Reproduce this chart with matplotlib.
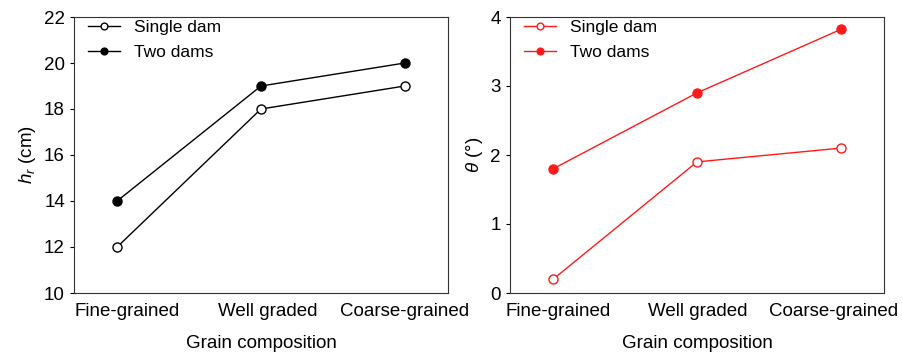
import matplotlib
matplotlib.use('Agg')
import matplotlib.pyplot as plt
import matplotlib.transforms as mtransforms
import numpy as np

plt.rcParams['font.family'] = ['Liberation Sans', 'DejaVu Sans']
plt.rcParams['mathtext.fontset'] = 'custom'
plt.rcParams['mathtext.it'] = 'Liberation Sans:italic'
plt.rcParams['mathtext.rm'] = 'Liberation Sans'

categories = ['Fine-grained', 'Well graded', 'Coarse-grained']
hr_single = [12, 18, 19]
hr_two = [14, 19, 20]
theta_single = [0.2, 1.9, 2.1]
theta_two = [1.8, 2.9, 3.82]

x = np.arange(len(categories))

fig = plt.figure(figsize=(9.02, 3.53), dpi=100)
ax1 = fig.add_axes([74 / 902, 60 / 353, 374 / 902, 276 / 353])
ax2 = fig.add_axes([510 / 902, 60 / 353, 374 / 902, 276 / 353])


def draw(ax, single, two, color, ylim, yticks, ylabel, shifts):
    ax.plot(x, single, '-o', color=color, mfc='white', mec=color, ms=6.5, lw=1, label='Single dam')
    ax.plot(x, two, '-o', color=color, mfc=color, mec=color, ms=6.5, lw=1, label='Two dams')
    ax.set_xlim(-0.3, 2.3)
    ax.set_ylim(*ylim)
    ax.set_yticks(yticks)
    ax.set_xticks(x)
    ax.set_xticklabels(categories)
    ax.tick_params(axis='x', length=0, pad=7, labelsize=13.5)
    ax.tick_params(axis='y', direction='out', length=3, labelsize=13.5)
    # nudge tick labels a little, like the original
    for lab, dx in zip(ax.get_xticklabels(), shifts):
        lab.set_transform(lab.get_transform() + mtransforms.ScaledTranslation(dx / 100, 0, fig.dpi_scale_trans))
    ax.set_xlabel('Grain composition', fontsize=13.5, labelpad=11)
    ax.set_ylabel(ylabel, fontsize=13.5)
    for s in ax.spines.values():
        s.set_color('#333333')
    ax.legend(loc='upper left', bbox_to_anchor=(0.02, 1.015), frameon=False, fontsize=12.5,
              handlelength=1.8, borderaxespad=0, handletextpad=0.8, labelspacing=0.55,
              markerscale=0.75)


draw(ax1, hr_single, hr_two, 'black', (10, 22), [10, 12, 14, 16, 18, 20, 22], r'$h_r$ (cm)', [10, 7, 0])
draw(ax2, theta_single, theta_two, '#ff1a1a', (0, 4), [0, 1, 2, 3, 4], r'$\theta$ (°)', [5, 1, -7])

fig.savefig('out.png', dpi=100)
